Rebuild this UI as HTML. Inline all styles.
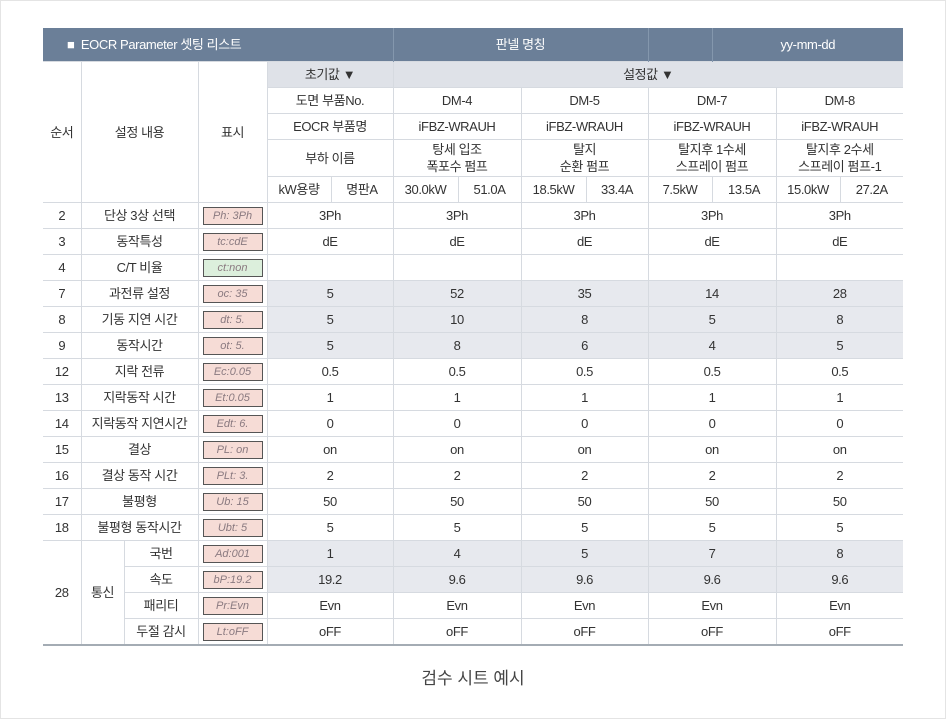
<!DOCTYPE html>
<html><head><meta charset="utf-8"><style>
body{margin:0;background:#fff;width:946px;height:719px;position:relative;overflow:hidden;font-family:"Liberation Sans","Noto Sans CJK KR",sans-serif;color:#333}
.frame{position:absolute;left:0;top:0;width:944px;height:717px;border:1px solid #e4e4e4}
table{position:absolute;left:43px;top:28px;border-collapse:collapse;table-layout:fixed;font-size:13px;letter-spacing:-0.4px}
td{border:1px solid #d6dae0;text-align:center;padding:0;height:25px;line-height:17px}
tr td:first-child{border-left:none}
tr td:last-child{border-right:none}
tr.hd td{background:#6b7f98;color:#fff;height:33px;border:none;border-right:1px solid #8497ad;font-size:13px}
td.g{background:#dfe2e8}
tr.s td.v{background:#e7e9ee}
tr.d td{height:25px}
.lcd{display:inline-block;width:58px;height:16px;line-height:16px;border:1.5px solid #555;background:#f6dcd6;color:#8a7a80;font-style:italic;font-family:"Liberation Sans",sans-serif;font-size:11px;letter-spacing:0;vertical-align:middle}
.gr{background:#dcefdc}
tr.last td{border-bottom:2px solid #a4acb4}
.cap{position:absolute;left:0;width:946px;top:664px;text-align:center;font-size:17px;color:#444}
</style></head><body><div class="frame"></div>
<table>
<colgroup><col style="width:38px"><col style="width:43px"><col style="width:74px"><col style="width:69px"><col style="width:64px"><col style="width:62px"><col style="width:65px"><col style="width:63px"><col style="width:65px"><col style="width:62px"><col style="width:64px"><col style="width:64px"><col style="width:64px"><col style="width:63px"></colgroup>
<tr class="hd"><td colspan="6" style="text-align:left;padding-left:24px">■&nbsp; EOCR Parameter 셋팅 리스트</td><td colspan="4">판넬 명칭</td><td></td><td colspan="3" style="border-right:none">yy-mm-dd</td></tr>
<tr><td rowspan="5">순서</td><td rowspan="5" colspan="2">설정 내용</td><td rowspan="5">표시</td><td colspan="2" class="g" style="height:22px">초기값 ▼</td><td colspan="8" class="g">설정값 ▼</td></tr>
<tr><td colspan="2" style="height:22px">도면 부품No.</td><td colspan="2">DM-4</td><td colspan="2">DM-5</td><td colspan="2">DM-7</td><td colspan="2">DM-8</td></tr>
<tr><td colspan="2" style="height:22px">EOCR 부품명</td><td colspan="2">iFBZ-WRAUH</td><td colspan="2">iFBZ-WRAUH</td><td colspan="2">iFBZ-WRAUH</td><td colspan="2">iFBZ-WRAUH</td></tr>
<tr><td colspan="2" style="height:36px">부하 이름</td><td colspan="2">탕세 입조<br>폭포수 펌프</td><td colspan="2">탈지<br>순환 펌프</td><td colspan="2">탈지후 1수세<br>스프레이 펌프</td><td colspan="2">탈지후 2수세<br>스프레이 펌프-1</td></tr>
<tr><td style="height:25px">kW용량</td><td>명판A</td><td>30.0kW</td><td>51.0A</td><td>18.5kW</td><td>33.4A</td><td>7.5kW</td><td>13.5A</td><td>15.0kW</td><td>27.2A</td></tr>
<tr class="d"><td>2</td><td colspan="2">단상 3상 선택</td><td><span class="lcd">Ph: 3Ph</span></td><td colspan="2">3Ph</td><td colspan="2">3Ph</td><td colspan="2">3Ph</td><td colspan="2">3Ph</td><td colspan="2">3Ph</td></tr>
<tr class="d"><td>3</td><td colspan="2">동작특성</td><td><span class="lcd">tc:cdE</span></td><td colspan="2">dE</td><td colspan="2">dE</td><td colspan="2">dE</td><td colspan="2">dE</td><td colspan="2">dE</td></tr>
<tr class="d"><td>4</td><td colspan="2">C/T 비율</td><td><span class="lcd gr">ct:non</span></td><td colspan="2"></td><td colspan="2"></td><td colspan="2"></td><td colspan="2"></td><td colspan="2"></td></tr>
<tr class="d s"><td>7</td><td colspan="2">과전류 설정</td><td><span class="lcd">oc: 35</span></td><td colspan="2" class="v">5</td><td colspan="2" class="v">52</td><td colspan="2" class="v">35</td><td colspan="2" class="v">14</td><td colspan="2" class="v">28</td></tr>
<tr class="d s"><td>8</td><td colspan="2">기동 지연 시간</td><td><span class="lcd">dt:  5.</span></td><td colspan="2" class="v">5</td><td colspan="2" class="v">10</td><td colspan="2" class="v">8</td><td colspan="2" class="v">5</td><td colspan="2" class="v">8</td></tr>
<tr class="d s"><td>9</td><td colspan="2">동작시간</td><td><span class="lcd">ot:  5.</span></td><td colspan="2" class="v">5</td><td colspan="2" class="v">8</td><td colspan="2" class="v">6</td><td colspan="2" class="v">4</td><td colspan="2" class="v">5</td></tr>
<tr class="d"><td>12</td><td colspan="2">지락 전류</td><td><span class="lcd">Ec:0.05</span></td><td colspan="2">0.5</td><td colspan="2">0.5</td><td colspan="2">0.5</td><td colspan="2">0.5</td><td colspan="2">0.5</td></tr>
<tr class="d"><td>13</td><td colspan="2">지락동작 시간</td><td><span class="lcd">Et:0.05</span></td><td colspan="2">1</td><td colspan="2">1</td><td colspan="2">1</td><td colspan="2">1</td><td colspan="2">1</td></tr>
<tr class="d"><td>14</td><td colspan="2">지락동작 지연시간</td><td><span class="lcd">Edt: 6.</span></td><td colspan="2">0</td><td colspan="2">0</td><td colspan="2">0</td><td colspan="2">0</td><td colspan="2">0</td></tr>
<tr class="d"><td>15</td><td colspan="2">결상</td><td><span class="lcd">PL: on</span></td><td colspan="2">on</td><td colspan="2">on</td><td colspan="2">on</td><td colspan="2">on</td><td colspan="2">on</td></tr>
<tr class="d"><td>16</td><td colspan="2">결상 동작 시간</td><td><span class="lcd">PLt: 3.</span></td><td colspan="2">2</td><td colspan="2">2</td><td colspan="2">2</td><td colspan="2">2</td><td colspan="2">2</td></tr>
<tr class="d"><td>17</td><td colspan="2">불평형</td><td><span class="lcd">Ub:  15</span></td><td colspan="2">50</td><td colspan="2">50</td><td colspan="2">50</td><td colspan="2">50</td><td colspan="2">50</td></tr>
<tr class="d"><td>18</td><td colspan="2">불평형 동작시간</td><td><span class="lcd">Ubt:  5</span></td><td colspan="2">5</td><td colspan="2">5</td><td colspan="2">5</td><td colspan="2">5</td><td colspan="2">5</td></tr>
<tr class="d s"><td rowspan="4" style="border-bottom:2px solid #a4acb4">28</td><td rowspan="4" style="border-bottom:2px solid #a4acb4">통신</td><td>국번</td><td><span class="lcd">Ad:001</span></td><td colspan="2" class="v">1</td><td colspan="2" class="v">4</td><td colspan="2" class="v">5</td><td colspan="2" class="v">7</td><td colspan="2" class="v">8</td></tr>
<tr class="d s"><td>속도</td><td><span class="lcd">bP:19.2</span></td><td colspan="2" class="v">19.2</td><td colspan="2" class="v">9.6</td><td colspan="2" class="v">9.6</td><td colspan="2" class="v">9.6</td><td colspan="2" class="v">9.6</td></tr>
<tr class="d"><td>패리티</td><td><span class="lcd">Pr:Evn</span></td><td colspan="2">Evn</td><td colspan="2">Evn</td><td colspan="2">Evn</td><td colspan="2">Evn</td><td colspan="2">Evn</td></tr>
<tr class="d last"><td>두절 감시</td><td><span class="lcd">Lt:oFF</span></td><td colspan="2">oFF</td><td colspan="2">oFF</td><td colspan="2">oFF</td><td colspan="2">oFF</td><td colspan="2">oFF</td></tr>
</table>
<div class="cap">검수 시트 예시</div>
</body></html>
